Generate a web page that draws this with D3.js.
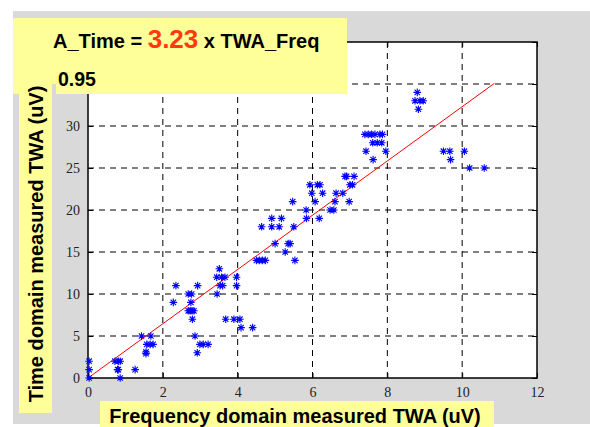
<!DOCTYPE html>
<html><head><meta charset="utf-8">
<script src="https://cdn.jsdelivr.net/npm/d3@7"></script>
<style>body{margin:0;background:#fff}svg{display:block}</style>
</head><body><svg id="c" width="590" height="427"></svg>
<script>
// data (Frequency-domain TWA, Time-domain TWA)
const freqTWA = [0.03,0.03,0.03,0.72,0.81,0.86,0.79,0.81,0.86,1.26,1.55,1.55,1.57,1.66,1.74,1.43,1.68,
  2.28,2.35,2.93,2.68,2.77,2.75,2.68,2.73,2.78,2.83,2.79,2.86,2.92,2.99,3.08,3.21,
  3.45,3.53,3.6,3.44,3.57,3.66,3.51,3.97,3.97,3.68,3.9,4.06,4.09,4.4,
  4.5,4.58,4.66,4.74,5.0,5.35,5.4,5.27,5.53,4.64,4.91,5.11,5.5,4.91,5.17,5.47,
  5.83,5.84,6.18,6.47,6.57,6.07,6.6,6.98,5.98,6.27,6.63,6.81,5.93,6.13,6.2,7.0,7.07,
  6.87,6.91,7.11,7.62,7.43,7.96,7.61,7.73,7.85,7.4,7.49,7.58,7.67,7.8,7.87,
  8.8,8.74,8.87,8.96,8.83,9.5,9.67,10.06,9.69,10.2,10.59];
const timeTWA = [2,1,0,2,2,2,1,1,0,1,3.1,2.9,4,4,4,5,5,
  9,11,11,10,10,9,8,8,8,8,7,5,3,4,4,4,
  10,11,11,12,12,12,13,12,11,7,7,7,6,6,
  14,14,14,14,16,16,16,15,14,18,18,18,18,19,19,21,
  20,19,19,20,20,21,21,21,22,22,22,22,23,23,23,23,23,
  24,24,24,26,27,27,28,28,28,29,29,29,29,29,29,
  34,33,33,33,32,27,27,27,26,25,25];
const slope = 3.23;
const fitEndX = 10.86;
const xTicks = [0,2,4,6,8,10,12];
const yTicks = [0,5,10,15,20,25,30,35,40];
const yTickLabels = ["0","5","10","15","20","25","30","",""];
const titleLeft = "A_Time = ", titleCoef = "3.23", titleRight = " x TWA_Freq";
const rText = "0.95";
const xLabel = "Frequency domain measured TWA (uV)";
const yLabel = "Time domain measured TWA (uV)";

const svg = d3.select("#c");
const L=88,R=537,T=42,B=378;
const x = d3.scaleLinear().domain([0,12]).range([L,R]);
const y = d3.scaleLinear().domain([0,40]).range([B,T]);

svg.append("rect").attr("x",13).attr("y",11).attr("width",577).attr("height",413).attr("fill","#d9d9d9");
svg.append("rect").attr("x",L).attr("y",T).attr("width",R-L).attr("height",B-T).attr("fill","#fff");

// grid
const g = svg.append("g");
g.selectAll("line.vx").data(xTicks.slice(1,-1)).join("line")
  .attr("x1",d=>x(d)).attr("x2",d=>x(d)).attr("y1",T).attr("y2",B)
  .attr("stroke","#000").attr("stroke-dasharray","6,5");
g.selectAll("line.hy").data(yTicks.slice(1,-1)).join("line")
  .attr("y1",d=>y(d)).attr("y2",d=>y(d)).attr("x1",L).attr("x2",R)
  .attr("stroke","#000").attr("stroke-dasharray","6,5");

// axes
const ax = d3.axisBottom(x).tickValues(xTicks).tickSize(-5).tickPadding(9).tickFormat(d3.format("d"));
const ay = d3.axisLeft(y).tickValues(yTicks).tickSize(-5).tickPadding(8).tickFormat((d,i)=>yTickLabels[i]);
const axT = d3.axisTop(x).tickValues(xTicks).tickSize(-5).tickFormat("");
const ayR = d3.axisRight(y).tickValues(yTicks).tickSize(-5).tickFormat("");
function style(sel){sel.selectAll("path").attr("stroke","#000").attr("stroke-width",1.5);
  sel.selectAll("line").attr("stroke","#000");
  sel.selectAll("text").attr("font-family","'Liberation Serif','Times New Roman',serif").attr("font-size",14).attr("fill","#222");}
svg.append("g").attr("transform",`translate(0,${B})`).call(ax).call(style);
svg.append("g").attr("transform",`translate(${L},0)`).call(ay).call(style);
svg.append("g").attr("transform",`translate(0,${T})`).call(axT).call(style);
svg.append("g").attr("transform",`translate(${R},0)`).call(ayR).call(style);
svg.selectAll(".domain").attr("d",null);
svg.append("rect").attr("x",L).attr("y",T).attr("width",R-L).attr("height",B-T).attr("fill","none").attr("stroke","#000").attr("stroke-width",1.5);

// fit line
svg.append("line").attr("x1",x(0)).attr("y1",y(0)).attr("x2",x(fitEndX)).attr("y2",y(slope*fitEndX))
  .attr("stroke","#ff0000").attr("stroke-width",1);

// points
const pts = freqTWA.map((v,i)=>[v,timeTWA[i]]);
const r=3.8,d=2.7;
const star=`M${-r},0L${r},0M0,${-r}L0,${r}M${-d},${-d}L${d},${d}M${-d},${d}L${d},${-d}`;
svg.append("g").selectAll("path").data(pts).join("path")
  .attr("transform",p=>`translate(${x(p[0])},${y(p[1])})`).attr("d",star)
  .attr("stroke","#0000ff").attr("stroke-width",1.1).attr("fill","none");

// label boxes
const font="Arial,'Liberation Sans',Helvetica,sans-serif";
svg.append("rect").attr("x",100).attr("y",401).attr("width",394).attr("height",26).attr("fill","#ffff99");
svg.append("text").attr("x",295).attr("y",423).attr("text-anchor","middle")
  .attr("font-family",font).attr("font-weight","bold").attr("font-size",20).text(xLabel);
svg.append("rect").attr("x",13).attr("y",18).attr("width",334).attr("height",76).attr("fill","#ffff99");
const t = svg.append("text").attr("x",53).attr("y",48).attr("font-family",font).attr("font-weight","bold").attr("font-size",20);
t.append("tspan").text(titleLeft);
t.append("tspan").attr("fill","#ff3a10").attr("font-size",26).text(titleCoef);
t.append("tspan").text(titleRight);
svg.append("rect").attr("x",52).attr("y",84).attr("width",4).attr("height",10).attr("fill","#d9d9d9");
svg.append("rect").attr("x",19).attr("y",84).attr("width",33).attr("height",329).attr("fill","#ffff99");
svg.append("text").attr("transform","translate(43,244) rotate(-90)").attr("text-anchor","middle")
  .attr("font-family",font).attr("font-weight","bold").attr("font-size",20).text(yLabel);
svg.append("text").attr("x",58).attr("y",86).attr("font-family",font).attr("font-weight","bold").attr("font-size",19.5).text(rText);
</script></body></html>
